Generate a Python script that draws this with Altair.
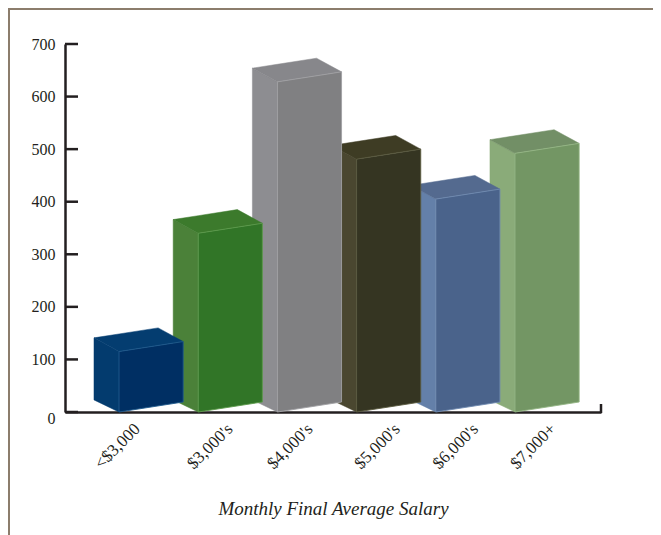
import altair as alt
import pandas as pd

# Values
categories = ["<$3,000", "$3,000's", "$4,000's", "$5,000's", "$6,000's", "$7,000+"]
values = [115, 340, 628, 481, 405, 492]
label_ticks = [0.0, 1.17, 2.18, 3.28, 4.27, 5.25]
front_colors = ["#002f63", "#317527", "#808082", "#353522", "#4a638b", "#739664"]
side_colors = ["#033b6e", "#4b8139", "#8d8d91", "#4a4730", "#6480a9", "#8aab79"]
top_colors = ["#043d70", "#3c7a2c", "#87878b", "#3e3c24", "#546a8f", "#728f66"]
edge_colors = ["#1f5a8c", "#5c9a4c", "#a0a0a4", "#5a5a40", "#6f8ab0", "#94b585"]
y_ticks = [0, 100, 200, 300, 400, 500, 600, 700]
x_title = "Monthly Final Average Salary"

# Box projection, in axis units (1 x unit = one category slot, y in chart value units)
BAR_W = 0.81
DEPTH_X = 0.316
DEPTH_Y = 26
RISE = 19
FONT = "Liberation Serif"
INK = "#231f20"
FRAME = "#8c7d6c"

x_scale = alt.Scale(domain=[-0.682, 6.086], nice=False, zero=False)
y_scale = alt.Scale(domain=[0, 700], nice=False)


def face(points):
    return pd.DataFrame(points, columns=["x", "y", "y2"])


def layers_for(i):
    v = values[i]
    x0, x1 = i, i + BAR_W
    bx0, bx1 = x0 - DEPTH_X, x1 - DEPTH_X
    back = lambda x: v + DEPTH_Y + RISE * (x - bx0) / BAR_W
    fr = lambda x: v + RISE * (x - x0) / BAR_W
    top = face([
        (bx0, back(bx0), back(bx0)),
        (x0, back(x0), fr(x0)),
        (bx1, back(bx1), fr(bx1)),
        (x1, fr(x1), fr(x1)),
    ])
    side = face([(bx0, v + DEPTH_Y, DEPTH_Y - 3), (x0, v, 0)])
    front = face([(x0, v, 0), (x1, v + RISE, RISE)])
    out = []
    for df, fill, stroke, sw in [
        (side, side_colors[i], side_colors[i], 0.5),
        (top, top_colors[i], top_colors[i], 0.5),
        (front, front_colors[i], edge_colors[i], 0.9),
    ]:
        out.append(
            alt.Chart(df)
            .mark_area(color=fill, stroke=stroke, strokeWidth=sw, opacity=1)
            .encode(
                x=alt.X("x:Q", scale=x_scale, title=x_title),
                y=alt.Y("y:Q", scale=y_scale, title=None),
                y2=alt.Y2("y2:Q"),
            )
        )
    return out


label_expr = "[" + ",".join('"%s"' % c for c in categories) + "][floor(datum.value)]"

axes_layer = (
    alt.Chart(pd.DataFrame({"x": label_ticks}))
    .mark_rule(opacity=0)
    .encode(
        x=alt.X(
            "x:Q",
            scale=x_scale,
            title=x_title,
            axis=alt.Axis(
                values=label_ticks,
                ticks=False,
                grid=False,
                domain=True,
                domainColor=INK,
                domainWidth=2.5,
                labelExpr=label_expr,
                labelAngle=-45,
                labelAlign="right",
                labelBaseline="middle",
                labelFont=FONT,
                labelFontSize=17,
                labelColor=INK,
                labelPadding=14,
                labelOffset=18,
                labelOverlap=False,
                labelBound=False,
                labelFlush=False,
                titleFont=FONT,
                titleFontSize=19,
                titleFontStyle="italic",
                titleFontWeight="normal",
                titleColor=INK,
                titlePadding=28,
            ),
        )
    )
)

y_layer = (
    alt.Chart(pd.DataFrame({"t": y_ticks}))
    .mark_rule(color=INK, strokeWidth=2.5)
    .encode(
        y=alt.Y(
            "t:Q",
            scale=y_scale,
            title=None,
            axis=alt.Axis(
                values=y_ticks,
                ticks=False,
                grid=False,
                domain=True,
                domainColor=INK,
                domainWidth=2.5,
                labelFont=FONT,
                labelFontSize=16,
                labelColor=INK,
                labelPadding=10,
                labelOffset=alt.expr("datum.value == 0 ? 6 : 0"),
            ),
        ),
        x=alt.value(0),
        x2=alt.value(13),
    )
)

end_tick = (
    alt.Chart(pd.DataFrame({"k": [0]}))
    .mark_rule(color=INK, strokeWidth=2.5)
    .encode(x=alt.value(536), y=alt.value(360), y2=alt.value(369))
)
frame_left = (
    alt.Chart(pd.DataFrame({"k": [0]}))
    .mark_rule(color=FRAME, strokeWidth=4)
    .encode(x=alt.value(-57), y=alt.value(-36), y2=alt.value(495))
)
frame_top = (
    alt.Chart(pd.DataFrame({"k": [0]}))
    .mark_rule(color=FRAME, strokeWidth=4)
    .encode(x=alt.value(-57), x2=alt.value(588), y=alt.value(-36))
)

bars = []
for i in reversed(range(len(categories))):
    bars.extend(layers_for(i))

chart = (
    alt.layer(axes_layer, y_layer, frame_left, frame_top, *bars, end_tick)
    .properties(
        width=536,
        height=368,
        padding={"left": 57, "top": 36, "right": 52, "bottom": 127},
        autosize=alt.AutoSizeParams(type="none"),
    )
    .configure_view(stroke=None)
)

chart.save("out.html", embed_options={"renderer": "svg", "actions": False})
